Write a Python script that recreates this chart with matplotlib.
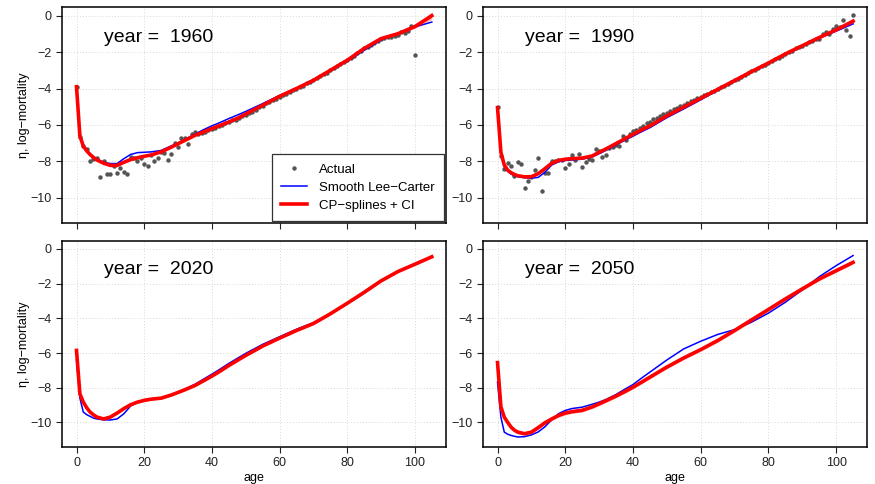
import matplotlib
matplotlib.use("Agg")
import matplotlib.pyplot as plt

plt.rcParams['font.family'] = ['Liberation Sans', 'DejaVu Sans']

# ages where the fitted curves are read
ages_fit = [0, 1, 2, 3, 4, 5, 6, 8, 10, 12, 14, 16, 18, 20, 22, 25, 28, 30, 32, 35, 38,
            40, 42, 45, 48, 50, 55, 60, 65, 70, 75, 80, 85, 90, 95, 100, 105]

cp_1960 = [-3.9, -6.6, -7.16, -7.42, -7.62, -7.78, -7.92, -8.1, -8.22, -8.22, -8.05, -7.9, -7.8,
           -7.72, -7.65, -7.48, -7.22, -7.03, -6.85, -6.57, -6.35, -6.2, -6.06, -5.84, -5.6, -5.4,
           -4.92, -4.43, -4.0, -3.55, -3.0, -2.45, -1.8, -1.26, -0.99, -0.6, 0.0]
lc_1960 = [-3.9, -6.5, -7.1, -7.4, -7.6, -7.76, -7.88, -8.05, -8.12, -8.12, -7.85, -7.62, -7.52,
           -7.5, -7.48, -7.4, -7.15, -7.0, -6.8, -6.5, -6.22, -6.05, -5.9, -5.65, -5.42, -5.26,
           -4.83, -4.38, -3.98, -3.55, -3.04, -2.5, -1.9, -1.33, -0.97, -0.62, -0.35]
cp_1990 = [-5.05, -7.5, -8.2, -8.48, -8.62, -8.72, -8.79, -8.85, -8.84, -8.68, -8.4, -8.1, -7.95,
           -7.88, -7.85, -7.82, -7.7, -7.5, -7.32, -7.02, -6.72, -6.52, -6.32, -6.05, -5.72, -5.5,
           -5.02, -4.54, -4.05, -3.56, -3.07, -2.6, -2.1, -1.65, -1.2, -0.78, -0.3]
lc_1990 = [-5.05, -7.55, -8.3, -8.55, -8.7, -8.78, -8.84, -8.9, -8.92, -8.88, -8.6, -8.2, -8.02,
           -7.95, -7.92, -7.88, -7.75, -7.58, -7.4, -7.1, -6.8, -6.62, -6.42, -6.15, -5.82, -5.6,
           -5.12, -4.62, -4.1, -3.6, -3.08, -2.6, -2.1, -1.66, -1.24, -0.85, -0.45]
cp_2020 = [-5.85, -8.35, -8.83, -9.15, -9.4, -9.56, -9.69, -9.8, -9.69, -9.46, -9.2, -8.98, -8.83,
           -8.73, -8.66, -8.6, -8.42, -8.27, -8.12, -7.87, -7.55, -7.33, -7.1, -6.72, -6.37, -6.14,
           -5.6, -5.14, -4.7, -4.3, -3.74, -3.13, -2.5, -1.84, -1.3, -0.88, -0.45]
lc_2020 = [-6.4, -8.6, -9.4, -9.55, -9.65, -9.75, -9.8, -9.85, -9.86, -9.8, -9.5, -9.05, -8.85,
           -8.73, -8.66, -8.58, -8.4, -8.24, -8.08, -7.8, -7.45, -7.22, -6.98, -6.6, -6.25, -6.02,
           -5.5, -5.06, -4.63, -4.25, -3.74, -3.16, -2.55, -1.86, -1.3, -0.85, -0.45]
cp_2050 = [-6.55, -9.1, -9.7, -10.0, -10.27, -10.45, -10.56, -10.65, -10.56, -10.3, -10.02, -9.8,
           -9.6, -9.46, -9.38, -9.3, -9.1, -8.93, -8.75, -8.48, -8.18, -7.97, -7.74, -7.39, -7.04,
           -6.81, -6.28, -5.8, -5.28, -4.7, -4.09, -3.49, -2.88, -2.3, -1.73, -1.25, -0.77]
lc_2050 = [-7.68, -9.7, -10.56, -10.68, -10.75, -10.8, -10.84, -10.82, -10.72, -10.55, -10.25,
           -9.85, -9.5, -9.31, -9.2, -9.12, -8.95, -8.83, -8.68, -8.39, -8.04, -7.82, -7.52, -7.1,
           -6.68, -6.4, -5.76, -5.32, -4.93, -4.65, -4.22, -3.7, -3.07, -2.36, -1.6, -0.96, -0.38]

# half width of the CP-splines confidence band
ci_1960 = [0.04, 0.04, 0.04, 0.04, 0.03, 0.03, 0.03, 0.03, 0.03, 0.03, 0.03, 0.03, 0.03, 0.03,
           0.03, 0.03, 0.03, 0.03, 0.03, 0.03, 0.03, 0.03, 0.03, 0.03, 0.03, 0.03, 0.03, 0.03,
           0.03, 0.03, 0.03, 0.03, 0.03, 0.04, 0.05, 0.09, 0.19]
ci_1990 = [0.04, 0.04, 0.04, 0.04, 0.03, 0.03, 0.03, 0.03, 0.03, 0.03, 0.03, 0.03, 0.03, 0.03,
           0.03, 0.03, 0.03, 0.03, 0.03, 0.03, 0.03, 0.03, 0.03, 0.03, 0.03, 0.03, 0.03, 0.03,
           0.03, 0.03, 0.03, 0.03, 0.03, 0.03, 0.04, 0.05, 0.07]
ci_2020 = [0.06, 0.06, 0.06, 0.06, 0.06, 0.06, 0.06, 0.06, 0.06, 0.06, 0.06, 0.06, 0.06, 0.06,
           0.06, 0.06, 0.06, 0.06, 0.06, 0.06, 0.06, 0.06, 0.06, 0.06, 0.06, 0.06, 0.06, 0.06,
           0.06, 0.06, 0.06, 0.06, 0.06, 0.06, 0.06, 0.06, 0.07]
ci_2050 = [0.1, 0.1, 0.1, 0.1, 0.1, 0.1, 0.1, 0.1, 0.1, 0.1, 0.1, 0.1, 0.1, 0.1, 0.1, 0.1, 0.1,
           0.1, 0.1, 0.1, 0.1, 0.1, 0.1, 0.1, 0.1, 0.1, 0.1, 0.1, 0.1, 0.1, 0.1, 0.1, 0.1, 0.1,
           0.1, 0.1, 0.1]

# observed log-mortality
ages_obs_1960 = list(range(0, 101))
obs_1960 = [-3.9, -6.68, -7.14, -7.34, -7.98, -7.88, -7.84, -8.86, -8.0, -8.7, -8.7, -8.26, -8.64,
            -8.35, -8.6, -8.7, -7.75, -7.8, -8.0, -7.84, -8.15, -8.26, -7.65, -7.98, -7.84, -7.5,
            -7.55, -7.9, -7.6, -6.97, -7.2, -6.74, -6.74, -7.07, -6.5, -6.37, -6.5, -6.45, -6.4,
            -6.3, -6.2, -6.15, -6.05, -6.0, -5.9, -5.85, -5.75, -5.72, -5.6, -5.52, -5.45, -5.32,
            -5.28, -5.18, -5.0, -4.95, -4.82, -4.72, -4.62, -4.55, -4.45, -4.38, -4.28, -4.2, -4.1,
            -4.02, -3.9, -3.85, -3.72, -3.65, -3.55, -3.42, -3.32, -3.2, -3.12, -3.0, -2.88, -2.78,
            -2.68, -2.55, -2.45, -2.32, -2.2, -2.05, -1.92, -1.8, -1.72, -1.6, -1.5, -1.38, -1.3,
            -1.22, -1.18, -1.15, -1.1, -1.05, -0.89, -0.93, -0.83, -0.57, -2.15]
ages_obs_1990 = list(range(0, 106))
obs_1990 = [-5.02, -7.69, -8.42, -8.11, -8.26, -8.79, -8.02, -8.17, -9.45, -9.08, -8.85, -8.48,
            -7.84, -9.6, -8.62, -8.66, -7.96, -7.96, -7.93, -7.93, -8.35, -8.15, -7.65, -7.93,
            -7.62, -8.3, -8.02, -7.87, -7.9, -7.32, -7.42, -7.78, -7.65, -7.29, -7.23, -7.1, -7.14,
            -6.61, -6.83, -6.5, -6.32, -6.3, -6.15, -6.05, -5.92, -5.82, -5.7, -5.62, -5.52, -5.42,
            -5.32, -5.25, -5.15, -5.08, -4.97, -4.9, -4.8, -4.7, -4.63, -4.53, -4.46, -4.37, -4.28,
            -4.2, -4.12, -4.03, -3.92, -3.85, -3.75, -3.65, -3.55, -3.45, -3.36, -3.25, -3.17,
            -3.06, -2.97, -2.88, -2.78, -2.7, -2.6, -2.5, -2.4, -2.3, -2.2, -2.12, -2.0, -1.92,
            -1.8, -1.72, -1.65, -1.55, -1.45, -1.38, -1.28, -1.26, -1.02, -0.9, -0.99, -0.75,
            -0.57, -0.62, -0.25, -0.8, -1.13, 0.02]

panels = [
    ("1960", cp_1960, lc_1960, ci_1960, ages_obs_1960, obs_1960),
    ("1990", cp_1990, lc_1990, ci_1990, ages_obs_1990, obs_1990),
    ("2020", cp_2020, lc_2020, ci_2020, None, None),
    ("2050", cp_2050, lc_2050, ci_2050, None, None),
]

W, H = 875, 484
fig = plt.figure(figsize=(W / 100, H / 100), dpi=100)
boxes = [
    (62.3, 7.3, 383.7, 216.0),
    (483.3, 7.3, 384.0, 216.0),
    (62.3, 241.0, 383.7, 205.7),
    (483.3, 241.0, 384.0, 205.7),
]

for i, (year, cp, lc, ci, a_obs, obs) in enumerate(panels):
    x0, y0, w, h = boxes[i]
    ax = fig.add_axes([x0 / W, 1 - (y0 + h) / H, w / W, h / H])
    ax.set_xlim(-4.2, 109.2)
    ax.set_ylim(-11.4, 0.46)
    ax.set_xticks([0, 20, 40, 60, 80, 100])
    ax.set_yticks([0, -2, -4, -6, -8, -10])
    ax.grid(True, linestyle=(0, (1, 2)), color='#d8d8d8', linewidth=0.7)
    ax.set_axisbelow(True)
    for s in ax.spines.values():
        s.set_linewidth(1.1)
    ax.tick_params(direction='out', length=4, width=0.8, labelsize=9, colors='#222222')

    if obs is not None:
        ax.plot(a_obs, obs, 'o', color='#555555', markersize=3.2, markeredgewidth=0,
                label='Actual', zorder=3)
    ax.plot(ages_fit, lc, color='blue', linewidth=1.1, label='Smooth Lee\u2212Carter', zorder=4)
    lo = [v - c for v, c in zip(cp, ci)]
    hi = [v + c for v, c in zip(cp, ci)]
    ax.fill_between(ages_fit, lo, hi, color='red', alpha=0.35, linewidth=0, zorder=5)
    ax.plot(ages_fit, cp, color='red', linewidth=2.6, label='CP\u2212splines + CI', zorder=5)

    ax.text(8.0, -1.2, "year =  " + year, fontsize=14, ha='left', va='center')

    if i < 2:
        ax.set_xticklabels([])
    else:
        ax.set_xlabel("age", fontsize=9, labelpad=2)
    if i % 2 == 0:
        ax.set_ylabel("\u03b7, log\u2212mortality", fontsize=9, labelpad=0.5)

    if i == 0:
        leg = ax.legend(loc='lower right', bbox_to_anchor=(0.995, 0.01), borderaxespad=0,
                        fontsize=9.5, fancybox=False, framealpha=1, edgecolor='#333333',
                        handlelength=2.0, handletextpad=0.9, labelspacing=0.45,
                        borderpad=0.7)
        leg.get_frame().set_linewidth(0.9)

fig.savefig("out.png", dpi=100)
